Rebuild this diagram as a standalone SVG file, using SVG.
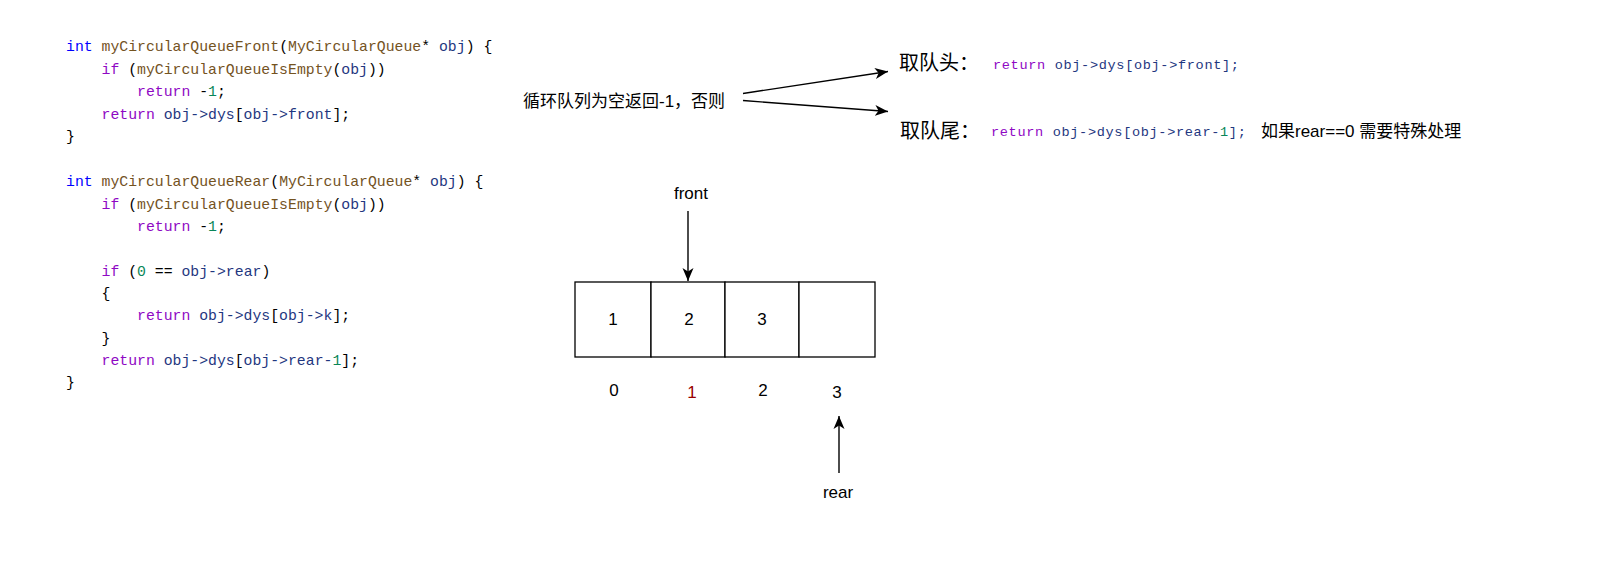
<svg xmlns="http://www.w3.org/2000/svg" width="1605" height="565" viewBox="0 0 1605 565">
<style>
.code{font-family:"Liberation Mono","DejaVu Sans Mono",monospace;font-size:14.8px;fill:#1f377f}
.rcode{font-family:"Liberation Mono","DejaVu Sans Mono",monospace;font-size:13.6px;letter-spacing:0.65px;fill:#1f377f}
.kw{fill:#8f08c4}
.ty{fill:#0000ff}
.fn{fill:#74531f}
.num{fill:#098658}
.p{fill:#000000}
.lbl{font-family:"Liberation Sans","Noto Sans CJK SC",sans-serif;font-size:17px;fill:#000}
.big{font-family:"Liberation Sans","Noto Sans CJK SC",sans-serif;font-size:20px;fill:#000}
.cell{fill:#ffffff;stroke:#000;stroke-width:1.3}
.edge{fill:none;stroke:#000;stroke-width:1.4}
.mid{text-anchor:middle}
</style>
<defs>
<marker id="arr" markerWidth="14" markerHeight="12" refX="13" refY="6" orient="auto" markerUnits="userSpaceOnUse">
<path d="M0,0.5 L13,6 L0,11.5 L3.5,6 Z" fill="#000"/>
</marker>
</defs>
<rect width="1605" height="565" fill="#ffffff"/>

<g id="code-front" class="code">
<text x="66" y="51"><tspan class="ty">int</tspan> <tspan class="fn">myCircularQueueFront</tspan><tspan class="p">(</tspan><tspan class="fn">MyCircularQueue</tspan><tspan class="p">*</tspan> obj<tspan class="p">) {</tspan></text>
<text x="101.5" y="73.5"><tspan class="kw">if</tspan> <tspan class="p">(</tspan><tspan class="fn">myCircularQueueIsEmpty</tspan><tspan class="p">(</tspan>obj<tspan class="p">))</tspan></text>
<text x="137" y="96"><tspan class="kw">return</tspan> <tspan class="p">-</tspan><tspan class="num">1</tspan><tspan class="p">;</tspan></text>
<text x="101.5" y="118.5"><tspan class="kw">return</tspan> obj-&gt;dys<tspan class="p">[</tspan>obj-&gt;front<tspan class="p">];</tspan></text>
<text x="66" y="141"><tspan class="p">}</tspan></text>
</g>

<g id="code-rear" class="code">
<text x="66" y="186"><tspan class="ty">int</tspan> <tspan class="fn">myCircularQueueRear</tspan><tspan class="p">(</tspan><tspan class="fn">MyCircularQueue</tspan><tspan class="p">*</tspan> obj<tspan class="p">) {</tspan></text>
<text x="101.5" y="208.5"><tspan class="kw">if</tspan> <tspan class="p">(</tspan><tspan class="fn">myCircularQueueIsEmpty</tspan><tspan class="p">(</tspan>obj<tspan class="p">))</tspan></text>
<text x="137" y="230.8"><tspan class="kw">return</tspan> <tspan class="p">-</tspan><tspan class="num">1</tspan><tspan class="p">;</tspan></text>
<text x="101.5" y="275.5"><tspan class="kw">if</tspan> <tspan class="p">(</tspan><tspan class="num">0</tspan> <tspan class="p">==</tspan> obj-&gt;rear<tspan class="p">)</tspan></text>
<text x="101.5" y="297.8"><tspan class="p">{</tspan></text>
<text x="137" y="320.2"><tspan class="kw">return</tspan> obj-&gt;dys<tspan class="p">[</tspan>obj-&gt;k<tspan class="p">];</tspan></text>
<text x="101.5" y="342.5"><tspan class="p">}</tspan></text>
<text x="101.5" y="364.8"><tspan class="kw">return</tspan> obj-&gt;dys<tspan class="p">[</tspan>obj-&gt;rear-<tspan class="num">1</tspan><tspan class="p">];</tspan></text>
<text x="66" y="387"><tspan class="p">}</tspan></text>
</g>

<g id="label-cond">
<text class="lbl" x="523" y="106.5">循环队列为空返回-1，否则</text>
</g>

<g id="label-head">
<text class="big" x="899" y="70">取队头：</text>
<text class="rcode" x="993" y="68.5"><tspan class="kw">return</tspan> obj-&gt;dys[obj-&gt;front];</text>
</g>

<g id="label-tail">
<text class="big" x="900" y="137.5">取队尾：</text>
<text class="rcode" x="991" y="135.5"><tspan class="kw">return</tspan> obj-&gt;dys[obj-&gt;rear-<tspan class="num">1</tspan>];</text>
<text class="lbl" x="1261" y="137">如果rear==0 需要特殊处理</text>
</g>

<g id="cells">
<rect class="cell" x="575" y="282" width="76" height="75"/>
<rect class="cell" x="651" y="282" width="74" height="75"/>
<rect class="cell" x="725" y="282" width="74" height="75"/>
<rect class="cell" x="799" y="282" width="76" height="75"/>
<text class="lbl mid" x="613" y="325">1</text>
<text class="lbl mid" x="689" y="325">2</text>
<text class="lbl mid" x="762" y="325">3</text>
</g>

<g id="indices">
<text class="lbl mid" x="614" y="396">0</text>
<text class="lbl mid" x="692" y="398" style="fill:#990000">1</text>
<text class="lbl mid" x="763" y="396">2</text>
<text class="lbl mid" x="837" y="398">3</text>
</g>

<g id="front-label">
<text class="lbl mid" x="691" y="199">front</text>
</g>

<g id="rear-label">
<text class="lbl mid" x="838" y="498">rear</text>
</g>

<g id="connectors">
<line class="edge" x1="743" y1="93.5" x2="888" y2="71.5" marker-end="url(#arr)"/>
<line class="edge" x1="743" y1="100.5" x2="888" y2="111.5" marker-end="url(#arr)"/>
<line class="edge" x1="688" y1="211" x2="688" y2="281" marker-end="url(#arr)"/>
<line class="edge" x1="839" y1="473" x2="839" y2="416" marker-end="url(#arr)"/>
</g>
</svg>
